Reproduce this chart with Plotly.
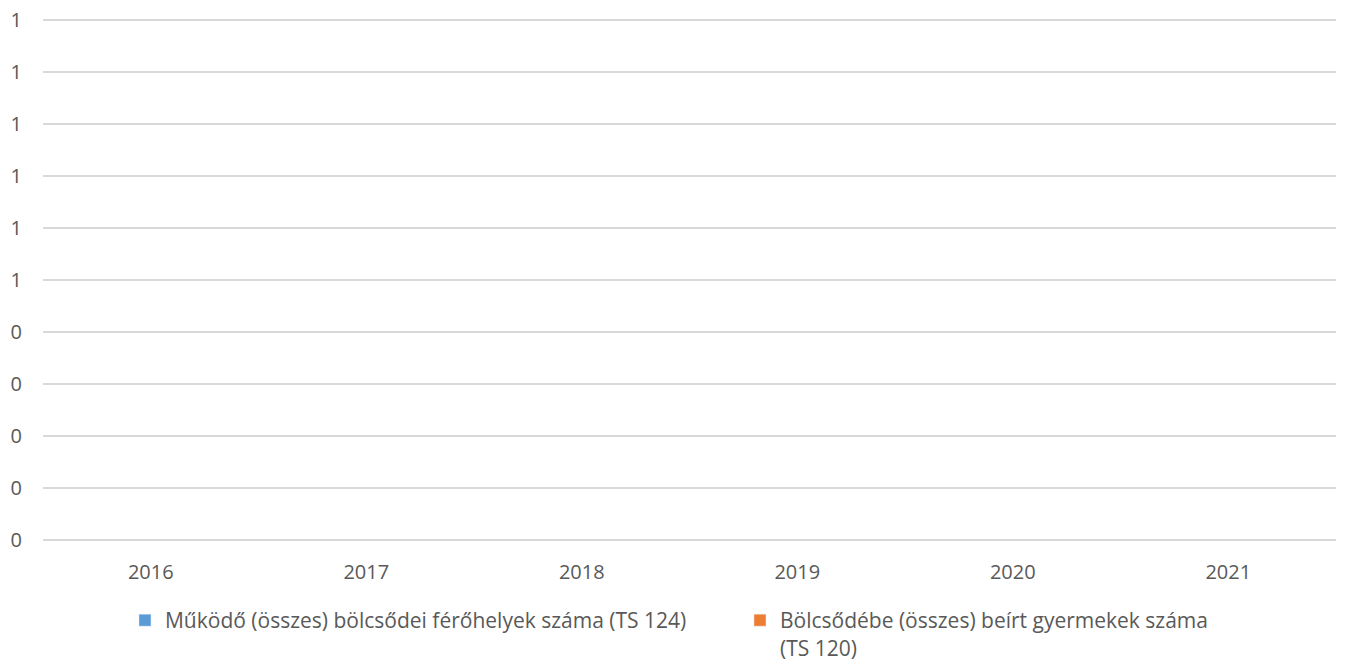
import plotly.graph_objects as go

years = ["2016", "2017", "2018", "2019", "2020", "2021"]
ferohelyek = [None, None, None, None, None, None]
beirt = [None, None, None, None, None, None]
y_tickvals = [0, 0.1, 0.2, 0.3, 0.4, 0.5, 0.6, 0.7, 0.8, 0.9, 1.0]
y_ticktext = ["0", "0", "0", "0", "0", "1", "1", "1", "1", "1", "1"]

name1 = "Működő (összes) bölcsődei férőhelyek száma (TS 124)"
name2 = "Bölcsődébe (összes) beírt gyermekek száma<br>(TS 120)"

fig = go.Figure()
fig.add_trace(go.Bar(x=years, y=ferohelyek, name=name1, marker_color="#5b9bd5"))
fig.add_trace(go.Bar(x=years, y=beirt, name=name2, marker_color="#ed7d31"))

font_family = "Open Sans, Noto Sans, sans-serif"
fig.update_layout(
    width=1346, height=661,
    margin=dict(l=43, r=10, t=18, b=121, autoexpand=False),
    paper_bgcolor="white", plot_bgcolor="white",
    font=dict(family=font_family, size=20, color="#595959"),
    showlegend=True,
    legend=dict(orientation="h", x=0.0634, xanchor="left", y=-0.115, yanchor="top",
                font=dict(size=21, color="#595959"), entrywidth=570, entrywidthmode="pixels",
                valign="top", itemclick=False),
    xaxis=dict(type="category", categoryorder="array", categoryarray=years,
               range=[-0.5, 5.5], showgrid=False, zeroline=False, showline=False,
               ticks="", ticklabelstandoff=18, tickfont=dict(size=20), automargin=False),
    yaxis=dict(range=[0, 1.00385], tickmode="array", tickvals=y_tickvals, ticktext=y_ticktext,
               showgrid=True, gridcolor="#d9d9d9", gridwidth=2, zeroline=True,
               zerolinecolor="#d9d9d9", zerolinewidth=2, showline=False, ticks="",
               ticklabelstandoff=20, ticklabeloverflow="allow", tickfont=dict(size=20),
               automargin=False),
)

fig.write_html("out.html", config={"displayModeBar": False},
               post_script="document.body.style.margin='0';")
